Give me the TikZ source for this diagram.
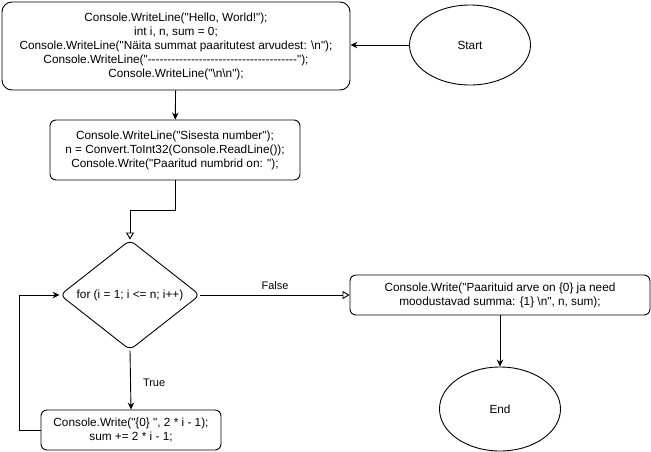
\documentclass[tikz,border=0pt]{standalone}
\usepackage{fontspec}
\setmainfont{Liberation Sans}[Ligatures=TeXOff]
\usetikzlibrary{arrows.meta,shapes.geometric}

\tikzset{
  code/.style={draw, rounded corners=6pt, align=center, inner sep=0pt,
    font=\fontsize{11.8}{14}\selectfont},
  term/.style={draw, ellipse, inner sep=0pt, font=\fontsize{11.8}{14}\selectfont},
  arr/.style={-{Stealth[length=7pt,width=6.5pt]}},
  oarr/.style={-{Triangle[open,length=7pt,width=8pt]}},
  lbl/.style={font=\fontsize{11}{13}\selectfont, inner sep=0pt}
}

\begin{document}
\begin{tikzpicture}[x=1pt,y=-1pt,line width=0.9pt]
  \useasboundingbox (0,0) rectangle (651,451);

  \node[term, minimum width=121, minimum height=80] (start) at (470,45) {Start};
  \node[code, rounded corners=10pt, minimum width=348, minimum height=88] (init) at (176,46)
    {Console.WriteLine("Hello, World!");\\
     int i, n, sum = 0;\\
     Console.WriteLine("Näita summat paaritutest arvudest: \textbackslash n");\\
     Console.WriteLine("--------------------------------------");\\
     Console.WriteLine("\textbackslash n\textbackslash n");};
  \node[code, minimum width=250, minimum height=60] (input) at (175,150)
    {Console.WriteLine("Sisesta number");\\
     n = Convert.ToInt32(Console.ReadLine());\\
     Console.Write("Paaritud numbrid on: ");};
  \node[code, shape=diamond, aspect=1.27, minimum width=140, minimum height=110] (loop) at (130,295)
    {for (i = 1; i <= n; i++)};
  \node[code, minimum width=180, minimum height=40] (body) at (131,430)
    {Console.Write("\{0\} ", 2 * i - 1);\\ sum += 2 * i - 1;};
  \node[code, minimum width=300, minimum height=40] (result) at (500,295)
    {Console.Write("Paarituid arve on \{0\} ja need\\
     moodustavad summa: \{1\} \textbackslash n", n, sum);};
  \node[term, minimum width=121, minimum height=84] (end) at (500,409) {End};

  \draw[arr] (start) -- (init.east |- start);
  \draw[arr] (init) -- (input);
  \draw[oarr] (input.south) -- ++(0,30) -| (loop.north);
  \draw[oarr] (loop.east) -- node[lbl, above=5pt] {False} (result.west);
  \draw[arr] (loop.south) -- node[lbl, right=12pt, pos=0.55] {True} (body.north);
  \draw[arr] (body.west) -- ++(-21,0) |- (loop.west);
  \draw[arr] (result) -- (end);
\end{tikzpicture}
\end{document}
